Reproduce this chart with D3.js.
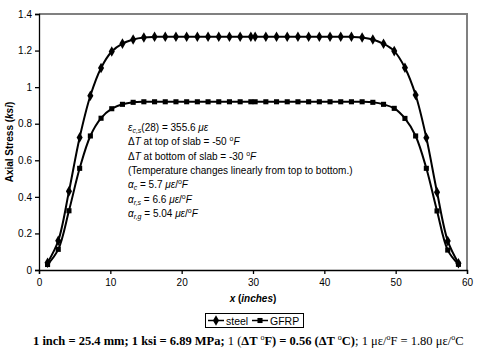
<!DOCTYPE html>
<html>
<head>
<meta charset="utf-8">
<script src="https://cdn.jsdelivr.net/npm/d3@7"></script>
<style>
  body { margin: 0; background: #fff; }
  svg text { font-family: Arial, "Liberation Sans", sans-serif; }
</style>
</head>
<body>
<svg id="chart" width="479" height="351"></svg>
<script>
// x positions along slab (inches)
const xPos = [1.2, 2.7, 4.2, 5.7, 7.2, 8.7, 10.2, 11.7, 13.2, 14.7,
  16.2, 17.7, 19.2, 20.7, 22.2, 23.7, 25.2, 26.7, 28.2, 29.7,
  30.3, 31.8, 33.3, 34.8, 36.3, 37.8, 39.3, 40.8, 42.3, 43.8,
  45.3, 46.8, 48.3, 49.8, 51.3, 52.8, 54.3, 55.8, 57.3, 58.8];

const steelStress = [0.04, 0.16, 0.43, 0.725, 0.953, 1.105, 1.195, 1.238, 1.261, 1.272,
  1.275, 1.275, 1.275, 1.275, 1.275, 1.275, 1.275, 1.275, 1.275, 1.275,
  1.275, 1.275, 1.275, 1.275, 1.275, 1.275, 1.275, 1.275, 1.275, 1.275,
  1.272, 1.261, 1.237, 1.197, 1.106, 0.957, 0.723, 0.425, 0.159, 0.037];

const gfrpStress = [0.03, 0.113, 0.324, 0.556, 0.733, 0.83, 0.882, 0.906, 0.917, 0.92,
  0.92, 0.92, 0.92, 0.92, 0.92, 0.92, 0.92, 0.92, 0.92, 0.92,
  0.92, 0.92, 0.92, 0.92, 0.92, 0.92, 0.92, 0.92, 0.92, 0.92,
  0.92, 0.917, 0.906, 0.884, 0.829, 0.733, 0.556, 0.323, 0.109, 0.031];

const xTicks = [0, 10, 20, 30, 40, 50, 60];
const yTicks = [0, 0.2, 0.4, 0.6, 0.8, 1, 1.2, 1.4];

const svg = d3.select("#chart");
svg.append("rect").attr("width", 479).attr("height", 351).attr("fill", "#fff");

const x = d3.scaleLinear().domain([0, 60]).range([39, 467]);
const y = d3.scaleLinear().domain([0, 1.4]).range([270, 14]);

// plot frame (gray top/right)
svg.append("path")
  .attr("d", `M${x(0)},${y(1.4)}H${x(60)}V${y(0)}`)
  .attr("fill", "none").attr("stroke", "#808080").attr("stroke-width", 2);

const xAxis = svg.append("g").attr("transform", `translate(0,${y(0)})`)
  .call(d3.axisBottom(x).tickValues(xTicks).tickSize(4).tickPadding(5).tickFormat(d3.format("d")));
const yAxis = svg.append("g").attr("transform", `translate(${x(0)},0)`)
  .call(d3.axisLeft(y).tickValues(yTicks).tickSize(4).tickPadding(3).tickFormat(d => d3.format("")(+d.toFixed(1))));
[xAxis, yAxis].forEach(g => {
  g.selectAll("path, line").attr("stroke", "#000").attr("stroke-width", 1.3);
  g.selectAll("text").attr("font-size", 10).attr("fill", "#000")
    .style("font-family", "Arial, 'Liberation Sans', sans-serif");
});

const line = d3.line().curve(d3.curveCatmullRom.alpha(0.5))
  .x(d => x(d[0])).y(d => y(d[1]));

const series = [
  { name: "steel", values: steelStress, symbol: d3.symbolDiamond, size: 32 },
  { name: "GFRP", values: gfrpStress, symbol: d3.symbolSquare, size: 26 }
];

series.forEach(s => {
  const pts = xPos.map((v, i) => [v, s.values[i]]);
  svg.append("path").datum(pts)
    .attr("d", line).attr("fill", "none").attr("stroke", "#000").attr("stroke-width", 2);
  svg.append("g").selectAll("path").data(pts).join("path")
    .attr("transform", d => `translate(${x(d[0])},${y(d[1])})`)
    .attr("d", d3.symbol().type(s.symbol).size(s.size))
    .attr("fill", "#000");
});

// axis titles
svg.append("text")
  .attr("transform", `translate(13,${(y(0) + y(1.4)) / 2}) rotate(-90)`)
  .attr("text-anchor", "middle").attr("font-size", 10).attr("font-weight", "bold")
  .html('Axial Stress (<tspan font-style="italic">ksi</tspan>)');

svg.append("text")
  .attr("x", (x(0) + x(60)) / 2).attr("y", 302)
  .attr("text-anchor", "middle").attr("font-size", 10).attr("font-weight", "bold")
  .html('<tspan font-style="italic">x</tspan> (<tspan font-style="italic">inches</tspan>)');

// annotation block
const notes = [
  '<tspan font-style="italic">ε</tspan><tspan font-style="italic" font-size="7" dy="2">c,s</tspan><tspan dy="-2">(28) = 355.6 </tspan><tspan font-style="italic">με</tspan>',
  'Δ<tspan font-style="italic">T</tspan>  at top of slab = -50 <tspan font-size="7" dy="-4">o</tspan><tspan font-style="italic" dy="4">F</tspan>',
  'Δ<tspan font-style="italic">T</tspan>  at bottom of slab = -30 <tspan font-size="7" dy="-4">o</tspan><tspan font-style="italic" dy="4">F</tspan>',
  '(Temperature changes linearly from top to bottom.)',
  '<tspan font-style="italic">α</tspan><tspan font-style="italic" font-size="7" dy="2">c</tspan><tspan dy="-2"> = 5.7 </tspan><tspan font-style="italic">με</tspan>/<tspan font-size="7" dy="-4">o</tspan><tspan font-style="italic" dy="4">F</tspan>',
  '<tspan font-style="italic">α</tspan><tspan font-style="italic" font-size="7" dy="2">r,s</tspan><tspan dy="-2"> = 6.6 </tspan><tspan font-style="italic">με</tspan>/<tspan font-size="7" dy="-4">o</tspan><tspan font-style="italic" dy="4">F</tspan>',
  '<tspan font-style="italic">α</tspan><tspan font-style="italic" font-size="7" dy="2">r,g</tspan><tspan dy="-2"> = 5.04 </tspan><tspan font-style="italic">με</tspan>/<tspan font-size="7" dy="-4">o</tspan><tspan font-style="italic" dy="4">F</tspan>'
];
svg.append("g").selectAll("text").data(notes).join("text")
  .attr("x", 128).attr("y", (d, i) => 131 + i * 14.3)
  .attr("font-size", 10).attr("fill", "#000")
  .html(d => d);

// legend
const legend = svg.append("g");
legend.append("rect").attr("x", 205.5).attr("y", 313.5).attr("width", 98).attr("height", 14)
  .attr("fill", "#fff").attr("stroke", "#000").attr("stroke-width", 1);
const legItems = [
  { s: series[0], lx: 208, tx: 226 },
  { s: series[1], lx: 252, tx: 270 }
];
legItems.forEach(it => {
  legend.append("line").attr("x1", it.lx).attr("x2", it.lx + 16)
    .attr("y1", 320.5).attr("y2", 320.5).attr("stroke", "#000").attr("stroke-width", 1.5);
  legend.append("path").attr("transform", `translate(${it.lx + 8},320.5)`)
    .attr("d", d3.symbol().type(it.s.symbol).size(it.s.size)).attr("fill", "#000");
  legend.append("text").attr("x", it.tx).attr("y", 324.5)
    .attr("font-size", 10.5).text(it.s.name);
});

// unit conversions
svg.append("text")
  .attr("x", 33).attr("y", 345)
  .style("font-family", "'Liberation Serif', 'Times New Roman', serif")
  .attr("font-size", 12.5).attr("fill", "#000")
  .html('<tspan font-weight="bold">1 inch = 25.4 mm; 1 ksi = 6.89 MPa;  </tspan>1 (<tspan font-weight="bold">ΔT </tspan><tspan font-size="8" dy="-5">o</tspan><tspan dy="5" font-weight="bold">F) = 0.56 (ΔT </tspan><tspan font-size="8" dy="-5">o</tspan><tspan dy="5" font-weight="bold">C)</tspan>; 1 με/<tspan font-size="8" dy="-5">o</tspan><tspan dy="5">F = 1.80 με/</tspan><tspan font-size="8" dy="-5">o</tspan><tspan dy="5">C</tspan>');
</script>
</body>
</html>
